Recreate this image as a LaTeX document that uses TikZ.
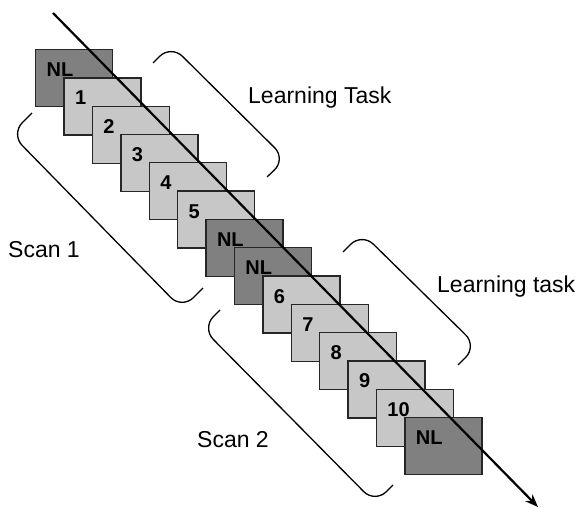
\documentclass[tikz,border=0pt]{standalone}
\usepackage{fontspec}
\setmainfont{Liberation Sans}
\usetikzlibrary{arrows.meta}
\definecolor{nlgray}{gray}{0.5}
\definecolor{taskgray}{gray}{0.78}
\begin{document}
\begin{tikzpicture}[x=1pt,y=-1pt,
    box/.style={draw=black!85,line width=1.3pt,rectangle,anchor=north west,
      inner xsep=11pt,inner ysep=0pt,text width=55pt,text height=27pt,text depth=30pt,
      align=left,font=\bfseries\fontsize{20}{20}\selectfont},
    nl/.style={box,fill=nlgray},
    task/.style={box,fill=taskgray},
    bracket/.style={line width=1.3pt,rounded corners=16pt},
    caption/.style={inner sep=0pt,anchor=base west,font=\fontsize{23}{26}\selectfont}]
  \useasboundingbox (0,0) rectangle (579,508);
  \draw
    (35.0,49.0) node[nl] (nl0){NL}
    (63.4,77.3) node[task] (t1){1}
    (91.8,105.6) node[task] (t2){2}
    (120.2,133.9) node[task] (t3){3}
    (148.6,162.2) node[task] (t4){4}
    (177.0,190.5) node[task] (t5){5}
    (205.4,218.8) node[nl] (nl1){NL}
    (233.8,247.1) node[nl] (nl2){NL}
    (262.2,275.4) node[task] (t6){6}
    (290.6,303.7) node[task] (t7){7}
    (319.0,332.0) node[task] (t8){8}
    (347.4,360.3) node[task] (t9){9}
    (375.8,388.6) node[task] (t10){10}
    (404.2,416.9) node[nl] (nl3){NL};
  \coordinate (start) at (53,13);
  \coordinate (end) at (538,507);
  \draw[line width=2.2pt,-{Stealth[length=13pt,width=10pt]}] (start) -- (end);
  \begin{scope}[bracket]
    \draw (153,63) -- (171,45) -- (286,159) -- (267,177);
    \draw (343,252) -- (362,233) -- (477,346) -- (458,365);
    \draw (32,113) -- (11,134) -- (182,309) -- (203,288);
    \draw (220,310) -- (202,328) -- (375,503) -- (393,485);
  \end{scope}
  \node[caption] (learn1) at (248,104) {Learning Task};
  \node[caption] (scan1) at (8,258) {Scan 1};
  \node[caption] (learn2) at (437,292) {Learning task};
  \node[caption] (scan2) at (197,447) {Scan 2};
\end{tikzpicture}
\end{document}
